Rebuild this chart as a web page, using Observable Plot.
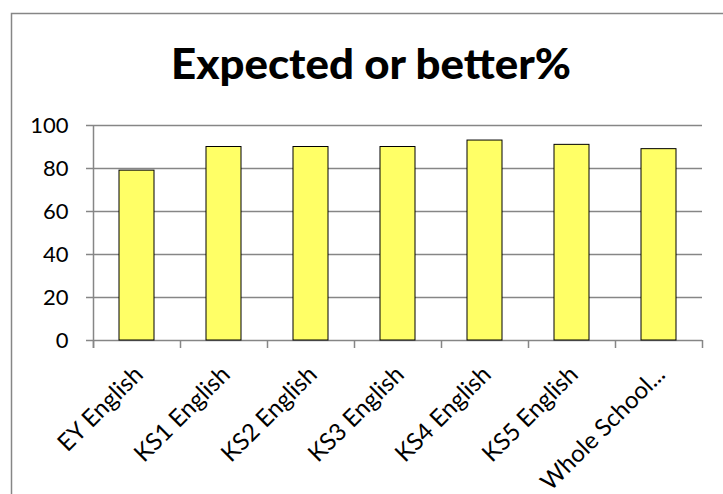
<!DOCTYPE html>
<html>
<head>
<meta charset="utf-8">
<script src="https://cdn.jsdelivr.net/npm/d3@7"></script>
<script src="https://cdn.jsdelivr.net/npm/@observablehq/plot@0.6"></script>
<style>
  html, body { margin: 0; padding: 0; background: #fff; }
  #page { position: relative; width: 723px; height: 494px; overflow: hidden; }
  #wrap { position: absolute; left: 0; top: 0; }
  #frame { position: absolute; left: 0; top: 0; pointer-events: none; }
  svg { display: block; }
</style>
</head>
<body>
<div id="page">
<div id="wrap"></div>
</div>
<script>
const categories = ["EY English", "KS1 English", "KS2 English", "KS3 English", "KS4 English", "KS5 English", "Whole School"];
const tickLabels = ["EY English", "KS1 English", "KS2 English", "KS3 English", "KS4 English", "KS5 English", "Whole School..."];
const values = [79, 90, 90, 90, 93, 91, 89];
const yTicks = [0, 20, 40, 60, 80, 100];
const titleText = "Expected or better%";

const data = categories.map((c, i) => ({category: c, value: values[i]}));
const labelOf = new Map(categories.map((c, i) => [c, tickLabels[i]]));
const grey = "#868686";
const font = "Lato, 'Open Sans', sans-serif";

const page = document.getElementById("page");
const wrap = document.getElementById("wrap");

// Title
const tsvg = d3.create("svg").attr("width", 723).attr("height", 110);
tsvg.append("text")
  .attr("x", 371).attr("y", 79)
  .attr("text-anchor", "middle")
  .attr("font-family", font)
  .attr("font-weight", 900)
  .attr("font-size", 42)
  .attr("textLength", 400)
  .attr("lengthAdjust", "spacingAndGlyphs")
  .attr("fill", "#000")
  .text(titleText);
wrap.appendChild(tsvg.node());

function makePlot(step) {
  return Plot.plot({
    width: 723,
    height: 384,
    marginTop: 15,
    marginBottom: 154,
    marginLeft: 93,
    marginRight: 21,
    style: {fontFamily: font, background: "transparent"},
    x: {domain: categories, paddingInner: 0.6, paddingOuter: 0.3, axis: null, label: null},
    y: {domain: [0, 100], axis: null, label: null},
    marks: [
      Plot.ruleY(yTicks, {stroke: grey, strokeWidth: 1.5, insetLeft: -7}),
      Plot.ruleX(categories, {x: d => d, y1: 0, y2: 0, insetBottom: -8, dx: -step / 2, stroke: grey, strokeWidth: 1.5}),
      Plot.ruleX([categories[categories.length - 1]], {x: d => d, y1: 0, y2: 0, insetBottom: -8, dx: step / 2, stroke: grey, strokeWidth: 1.5}),
      Plot.ruleX([categories[0]], {x: d => d, y1: 100, y2: 0, insetBottom: -8, dx: -step / 2, stroke: grey, strokeWidth: 1.5}),
      Plot.barY(data, {x: "category", y: "value", fill: "#FFFF66", stroke: "#000", strokeWidth: 1}),
      Plot.axisY({ticks: yTicks, tickSize: 0, tickPadding: 25, fontSize: 22, fill: "#000", label: null}),
      Plot.axisX({tickSize: 0, tickRotate: -45, tickPadding: 30, dx: 2, fontSize: 24, fill: "#000", label: null, tickFormat: d => labelOf.get(d)})
    ]
  });
}

const probe = makePlot(0);
const step = probe.scale("x").step;
wrap.appendChild(makePlot(step));

// Outer chart-area border (left and top edges visible; the rest lies beyond the crop)
const fsvg = d3.create("svg").attr("id", "frame").attr("width", 723).attr("height", 494);
fsvg.append("path")
  .attr("d", "M11.5,494V13.5H723")
  .attr("fill", "none")
  .attr("stroke", grey)
  .attr("stroke-width", 1.5);
page.appendChild(fsvg.node());
</script>
</body>
</html>
